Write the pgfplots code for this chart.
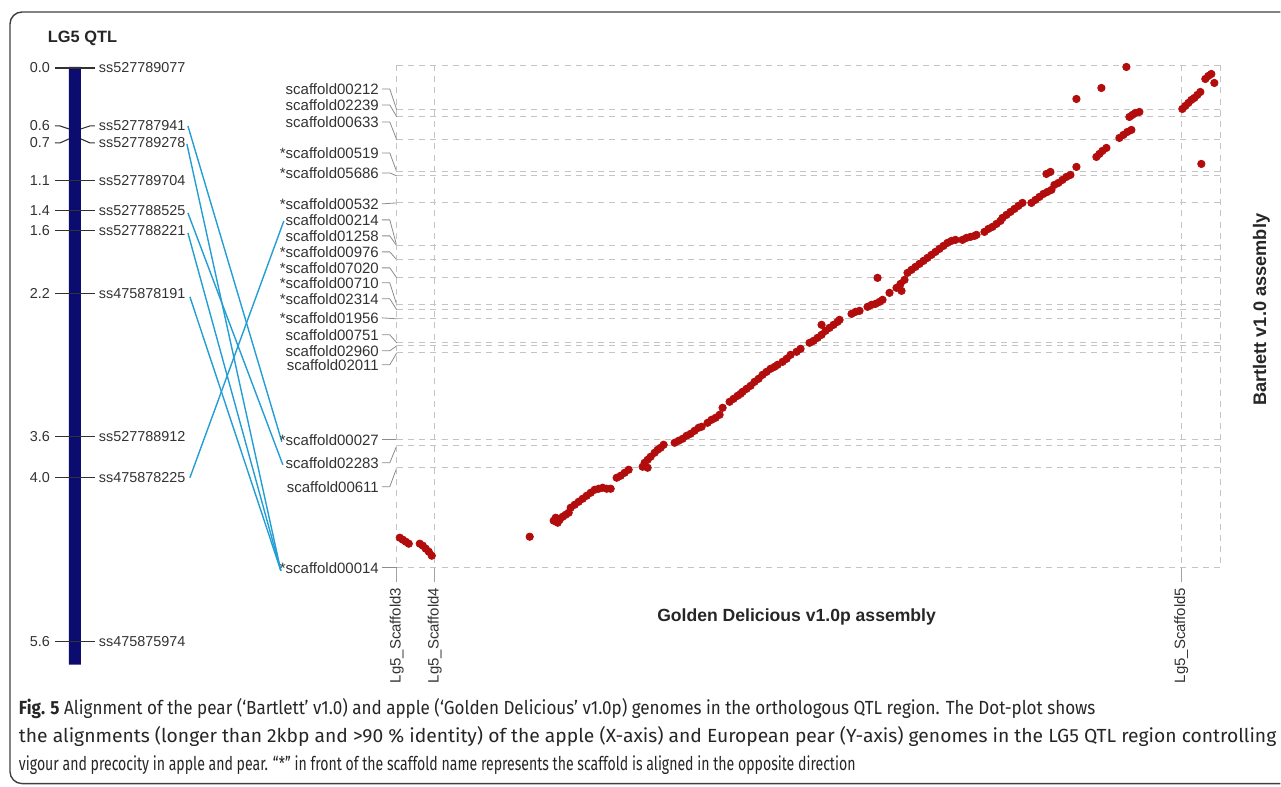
\documentclass[border=0pt]{standalone}
\usepackage{pgfplots}
\pgfplotsset{compat=1.18}
\usepackage{graphicx}
\usepackage{fontspec}
\setmainfont{Liberation Sans}
\newfontfamily\capfont{Fira Sans}
\definecolor{navybar}{RGB}{12,12,112}
\definecolor{qtlblue}{RGB}{35,158,212}
\definecolor{dotred}{RGB}{178,12,12}
\definecolor{txt}{RGB}{50,50,50}
\definecolor{gridg}{RGB}{196,196,196}
\definecolor{leadg}{RGB}{140,140,140}
\newcommand{\lab}{\fontsize{7.2}{8}\selectfont\color{txt}}
\newcommand{\slab}{\fontsize{7.5}{8}\selectfont\color{txt}}
\newcommand{\rlab}{\fontsize{7.5}{8}\selectfont\color{txt}}
\newsavebox\capbox
\newcommand\fitline[2]{\sbox\capbox{#2}\pgfmathsetmacro\capr{#1/\the\wd\capbox}\scalebox{\capr}[1]{\usebox\capbox}}
\tikzset{every node/.append style={inner sep=0pt, outer sep=0pt}}
\begin{document}
\begin{tikzpicture}
\begin{axis}[
  width=640.5pt, height=393.5pt, scale only axis,
  xmin=0, xmax=1281, ymin=0, ymax=787, y dir=reverse,
  hide axis, clip=false,
  grd/.style={gridg, line width=0.45pt, dash pattern=on 3pt off 2.6pt},
  lead/.style={leadg, line width=0.4pt},
  tck/.style={txt, line width=0.55pt},
  bl/.style={qtlblue, line width=0.7pt},
]
% bounding box
\addplot[draw=none] coordinates {(0,0) (1281,787)};
% frame
\addplot[draw=black!75, line width=0.7pt, rounded corners=6pt] coordinates {(1281,12) (10,12) (10,784) (1281,784)};

% ---------- LG5 map ----------
\node[anchor=west, font=\fontsize{8.2}{9}\selectfont\bfseries, text=black!85] at (axis cs:48,38) {LG5 QTL};
\addplot[fill=navybar, draw=none] coordinates {(69,67) (81,67) (81,665) (69,665) (69,67)};
% ticks
\addplot[tck] coordinates {(55,68) (95,68)};
\addplot[tck] coordinates {(55,126) (60,126) (69,129)};
\addplot[tck] coordinates {(81,129) (90,126) (95,126)};
\addplot[tck] coordinates {(55,143) (60,143) (69,139)};
\addplot[tck] coordinates {(81,139) (90,143) (95,143)};
\addplot[tck] coordinates {(55,181) (95,181)};
\addplot[tck] coordinates {(55,211) (95,211)};
\addplot[tck] coordinates {(55,231) (95,231)};
\addplot[tck] coordinates {(55,294) (95,294)};
\addplot[tck] coordinates {(55,437) (95,437)};
\addplot[tck] coordinates {(55,478) (95,478)};
\addplot[tck] coordinates {(55,642) (95,642)};
% positions
\node[anchor=east] at (axis cs:50,68) {\lab 0.0};
\node[anchor=east] at (axis cs:50,126) {\lab 0.6};
\node[anchor=east] at (axis cs:50,143) {\lab 0.7};
\node[anchor=east] at (axis cs:50,181) {\lab 1.1};
\node[anchor=east] at (axis cs:50,211) {\lab 1.4};
\node[anchor=east] at (axis cs:50,231) {\lab 1.6};
\node[anchor=east] at (axis cs:50,294) {\lab 2.2};
\node[anchor=east] at (axis cs:50,437) {\lab 3.6};
\node[anchor=east] at (axis cs:50,478) {\lab 4.0};
\node[anchor=east] at (axis cs:50,642) {\lab 5.6};
% markers
\node[anchor=west] at (axis cs:99,68) {\lab ss527789077};
\node[anchor=west] at (axis cs:99,126) {\lab ss527787941};
\node[anchor=west] at (axis cs:99,143) {\lab ss527789278};
\node[anchor=west] at (axis cs:99,181) {\lab ss527789704};
\node[anchor=west] at (axis cs:99,211) {\lab ss527788525};
\node[anchor=west] at (axis cs:99,231) {\lab ss527788221};
\node[anchor=west] at (axis cs:99,294) {\lab ss475878191};
\node[anchor=west] at (axis cs:99,437) {\lab ss527788912};
\node[anchor=west] at (axis cs:99,478) {\lab ss475878225};
\node[anchor=west] at (axis cs:99,642) {\lab ss475875974};
% blue links
\addplot[bl] coordinates {(188,126) (282,442)};
\addplot[bl] coordinates {(187,144) (281,571)};
\addplot[bl] coordinates {(188,213) (283,465)};
\addplot[bl] coordinates {(188,233) (281,571)};
\addplot[bl] coordinates {(190,297) (281,571)};
\addplot[bl] coordinates {(190,478) (284,221)};

% ---------- scaffold labels ----------
\node[anchor=east] at (axis cs:379,89) {\slab scaffold00212};
\node[anchor=east] at (axis cs:379,105) {\slab scaffold02239};
\node[anchor=east] at (axis cs:379,122) {\slab scaffold00633};
\node[anchor=east] at (axis cs:379,153) {\slab *scaffold00519};
\node[anchor=east] at (axis cs:379,173) {\slab *scaffold05686};
\node[anchor=east] at (axis cs:379,204) {\slab *scaffold00532};
\node[anchor=east] at (axis cs:379,220) {\slab scaffold00214};
\node[anchor=east] at (axis cs:379,236) {\slab scaffold01258};
\node[anchor=east] at (axis cs:379,252) {\slab *scaffold00976};
\node[anchor=east] at (axis cs:379,268) {\slab *scaffold07020};
\node[anchor=east] at (axis cs:379,283) {\slab *scaffold00710};
\node[anchor=east] at (axis cs:379,299) {\slab *scaffold02314};
\node[anchor=east] at (axis cs:379,318) {\slab *scaffold01956};
\node[anchor=east] at (axis cs:379,335) {\slab scaffold00751};
\node[anchor=east] at (axis cs:379,351) {\slab scaffold02960};
\node[anchor=east] at (axis cs:379,365) {\slab scaffold02011};
\node[anchor=east] at (axis cs:379,440) {\slab *scaffold00027};
\node[anchor=east] at (axis cs:379,463) {\slab scaffold02283};
\node[anchor=east] at (axis cs:379,487) {\slab scaffold00611};
\node[anchor=east] at (axis cs:379,568) {\slab *scaffold00014};
% leaders
\addplot[lead] coordinates {(382,89) (390,89) (397,110)};
\addplot[lead] coordinates {(382,105) (390,105) (397,117)};
\addplot[lead] coordinates {(382,122) (390,122) (397,140)};
\addplot[lead] coordinates {(382,153) (390,153) (397,172)};
\addplot[lead] coordinates {(382,173) (390,173) (397,176)};
\addplot[lead] coordinates {(382,204) (397,203)};
\addplot[lead] coordinates {(382,220) (390,220) (397,246)};
\addplot[lead] coordinates {(382,236) (390,236) (397,246)};
\addplot[lead] coordinates {(382,252) (390,252) (397,260)};
\addplot[lead] coordinates {(382,268) (390,268) (397,278)};
\addplot[lead] coordinates {(382,283) (390,283) (397,305)};
\addplot[lead] coordinates {(382,299) (390,299) (397,310)};
\addplot[lead] coordinates {(382,318) (397,319)};
\addplot[lead] coordinates {(382,335) (390,335) (397,343)};
\addplot[lead] coordinates {(382,351) (390,351) (397,346)};
\addplot[lead] coordinates {(382,365) (390,365) (397,353)};
\addplot[lead] coordinates {(382,440) (397,440)};
\addplot[lead] coordinates {(382,463) (390,463) (397,446)};
\addplot[lead] coordinates {(382,487) (390,487) (397,468)};
\addplot[lead] coordinates {(382,568) (397,568)};

% ---------- grid ----------
\pgfplotsinvokeforeach{65,110,117,140,172,176,203,246,260,278,305,310,319,343,346,353,440,446,468,568}{
  \addplot[grd] coordinates {(397,#1) (1221,#1)};
}
\addplot[grd] coordinates {(397,65) (397,568)};
\addplot[grd] coordinates {(435,65) (435,568)};
\addplot[grd] coordinates {(1182,65) (1182,568)};
\addplot[grd] coordinates {(1221,65) (1221,568)};
\addplot[leadg!80, line width=0.45pt] coordinates {(397,568) (397,582)};
\addplot[leadg!80, line width=0.45pt] coordinates {(435,568) (435,582)};
\addplot[leadg!80, line width=0.45pt] coordinates {(1182,568) (1182,582)};

% ---------- dots ----------
\addplot[only marks, mark=*, mark size=1.85pt, color=dotred, mark options={draw=dotred, fill=dotred}] coordinates {
(400,538) (403,540) (406,542) (409,544)
(420,544) (423,546) (426,549) (429,552) (432,556)
(530,537)
(554,521) (556,518) (558,523) (560,520) (563,517) (566,515) (569,513)
(571,508) (575,505) (579,502) (583,499) (587,496) (591,493) (595,490) (599,489) (603,488) (607,489) (611,489)
(617,478) (621,476) (625,473) (629,470)
(643,467) (648,468)
(645,463) (648,460) (651,457) (655,453) (658,450) (661,448) (664,445)
(675,443) (679,441) (683,439) (687,436) (691,434) (695,431) (699,428) (702,427)
(708,423) (712,420) (716,418) (720,415)
(723,408)
(730,402) (734,399) (738,396) (741,394)
(743,392) (747,389) (751,386) (755,382) (759,379) (763,375)
(767,372) (771,369) (775,367) (778,365)
(783,362) (787,359) (791,355)
(797,352) (801,349)
(810,343) (814,341) (818,338) (822,335) (826,331) (830,328) (834,325) (838,322) (840,320)
(822,325)
(852,314) (856,312) (860,311)
(868,307) (872,305) (876,304) (880,302) (883,300)
(878,278)
(890,293)
(897,288) (901,284) (905,280)
(902,291)
(908,273) (912,270) (916,267) (920,264) (924,261) (928,258) (932,255) (936,252) (940,249) (944,246) (948,243) (952,241) (956,240)
(963,240) (967,238) (971,237) (975,236) (977,235)
(985,232) (989,229) (993,227) (997,224) (1001,221) (1003,218)
(1007,215) (1011,212) (1015,209) (1019,206) (1023,203)
(1032,203) (1036,200) (1040,197) (1044,194) (1048,192) (1052,190)
(1047,174) (1051,172)
(1055,185) (1059,183) (1063,180) (1067,177) (1071,175)
(1077,167)
(1097,157) (1100,154) (1103,151) (1107,148)
(1120,138) (1124,135) (1128,132) (1132,130)
(1130,117) (1133,115) (1136,113) (1140,112)
(1077,99) (1102,88) (1127,67)
(1183,109) (1186,106) (1189,103) (1192,100) (1195,98) (1198,95) (1201,92)
(1206,79) (1209,76) (1212,74)
(1215,83)
(1202,164)
};

% ---------- axis titles ----------
\node[rotate=90, anchor=east] at (axis cs:397,588) {\rlab Lg5\_Scaffold3};
\node[rotate=90, anchor=east] at (axis cs:435,588) {\rlab Lg5\_Scaffold4};
\node[rotate=90, anchor=east] at (axis cs:1182,588) {\rlab Lg5\_Scaffold5};
\node[font=\fontsize{8.8}{10}\selectfont\bfseries, text=black!85] at (axis cs:797,617) {Golden Delicious v1.0p assembly};
\node[rotate=90, font=\fontsize{9.1}{10}\selectfont\bfseries, text=black!85] at (axis cs:1262,310) {Bartlett v1.0 assembly};

% ---------- caption ----------
\node[anchor=base west] at (axis cs:19,715) {\fitline{538.5}{\capfont\fontsize{9.5}{11}\selectfont\color{black!85}{\bfseries Fig. 5} Alignment of the pear (‘Bartlett’ v1.0) and apple (‘Golden Delicious’ v1.0p) genomes in the orthologous QTL region. The Dot-plot shows}};
\node[anchor=base west] at (axis cs:19,743) {\fitline{629}{\capfont\fontsize{9.5}{11}\selectfont\color{black!85}the alignments (longer than 2kbp and >90~\% identity) of the apple (X-axis) and European pear (Y-axis) genomes in the LG5 QTL region controlling}};
\node[anchor=base west] at (axis cs:19,771) {\fitline{418.5}{\capfont\fontsize{9.5}{11}\selectfont\color{black!85}vigour and precocity in apple and pear. “*” in front of the scaffold name represents the scaffold is aligned in the opposite direction}};
\end{axis}
\end{tikzpicture}
\end{document}
